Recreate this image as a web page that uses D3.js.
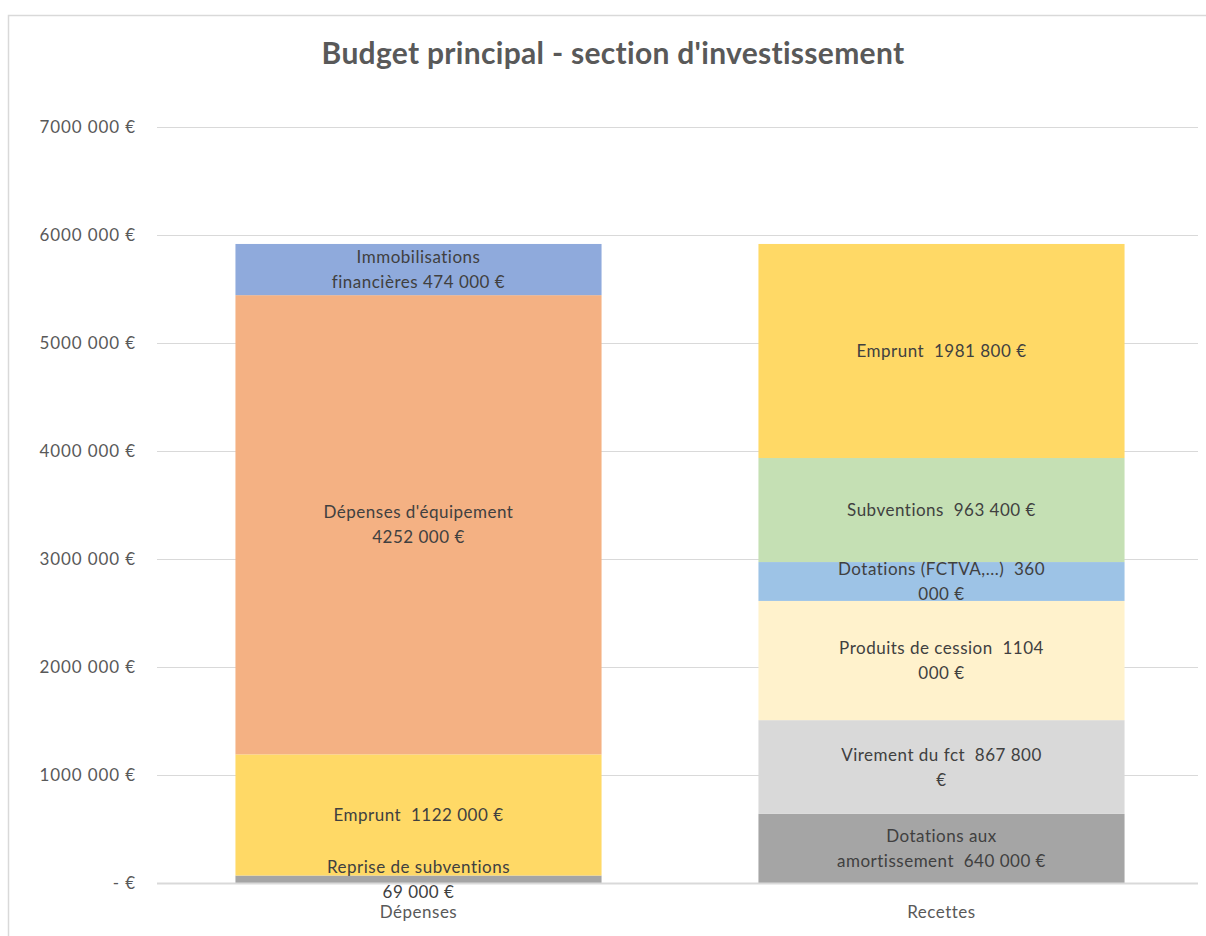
<!DOCTYPE html>
<html>
<head>
<meta charset="utf-8">
<title>Budget principal - section d'investissement</title>
<script src="https://cdn.jsdelivr.net/npm/d3@7"></script>
<style>
  body { margin:0; background:#fff; }
  svg text { font-family: Lato, "Open Sans", sans-serif; white-space: pre; }
</style>
</head>
<body>
<div id="chart"></div>
<script>
// categories and stacks, bottom to top
var categories = ["Dépenses", "Recettes"];

var depNames  = ["Reprise de subventions", "Emprunt  ", "Dépenses d'équipement", "Immobilisations\nfinancières "];
var depValues = [69000, 1122000, 4252000, 474000];
var depColors = ["#a5a5a5", "#ffd966", "#f4b183", "#8faadc"];
var depWrapValue = [true, false, true, false];

var recNames  = ["Dotations aux\namortissement  ", "Virement du fct  ", "Produits de cession  ", "Dotations (FCTVA,...)  ", "Subventions  ", "Emprunt  "];
var recValues = [640000, 867800, 1104000, 360000, 963400, 1981800];
var recColors = ["#a5a5a5", "#d9d9d9", "#fff2cc", "#9dc3e6", "#c5e0b4", "#ffd966"];
// where the value itself wraps (as in the Excel labels)
var recValueSplit = [null, "€", "000", "000", null, null];

var yTicks = [0, 1000000, 2000000, 3000000, 4000000, 5000000, 6000000, 7000000];

function euro(v) {
  if (v === 0) return "- €";
  var k = Math.floor(v / 1000), r = v % 1000;
  return k + " " + String(r).padStart(3, "0") + " €";
}

var W = 1206, H = 936;
var svg = d3.select("#chart").append("svg").attr("width", W).attr("height", H);

// chart frame
svg.append("rect").attr("x", 8.5).attr("y", 15.5).attr("width", W + 10).attr("height", H + 10)
  .attr("fill", "none").attr("stroke", "#d9d9d9").attr("stroke-width", 1.5);

svg.append("text").attr("x", 613).attr("y", 64).attr("text-anchor", "middle")
  .attr("font-size", 30).attr("font-weight", "bold").attr("letter-spacing", 0.3).attr("fill", "#595959")
  .text("Budget principal - section d'investissement");

var y = d3.scaleLinear().domain([0, 7000000]).range([883, 127]);
var x = d3.scaleBand().domain(categories).range([157, 1203]).paddingInner(0.3).paddingOuter(0.15);

// grid
svg.append("g").selectAll("line").data(yTicks).join("line")
  .attr("x1", 157).attr("x2", 1198)
  .attr("y1", d => Math.round(y(d)) + 0.5).attr("y2", d => Math.round(y(d)) + 0.5)
  .attr("stroke", "#d9d9d9").attr("stroke-width", 1);

var yAxis = svg.append("g").attr("transform", "translate(157,0)")
  .call(d3.axisLeft(y).tickValues(yTicks).tickFormat(euro).tickSize(0).tickPadding(21));
yAxis.select(".domain").remove();
yAxis.selectAll("text").attr("font-size", 17).attr("letter-spacing", 0.9).attr("fill", "#595959");

function stack(names, values, colors, wrapValue, splits) {
  var acc = 0;
  return values.map(function (v, i) {
    var s = { value: v, color: colors[i], y0: acc, y1: acc + v };
    acc += v;
    var e = euro(v);
    if (splits && splits[i] === "€") e = e.replace(" €", "\n€");
    else if (splits && splits[i] === "000") e = e.replace(" 000", "\n000");
    var full = names[i] + (wrapValue && wrapValue[i] ? "\n" : "") + e;
    s.lines = full.split("\n");
    return s;
  });
}

var series = [
  { cat: "Dépenses", segs: stack(depNames, depValues, depColors, depWrapValue) },
  { cat: "Recettes", segs: stack(recNames, recValues, recColors, null, recValueSplit) }
];

series.forEach(function (s) {
  svg.append("g").selectAll("rect").data(s.segs).join("rect")
    .attr("x", x(s.cat)).attr("width", x.bandwidth())
    .attr("y", d => y(d.y1)).attr("height", d => y(d.y0) - y(d.y1))
    .attr("fill", d => d.color);
});

// baseline over the bars
svg.append("line").attr("x1", 157).attr("x2", 1198).attr("y1", 883.5).attr("y2", 883.5)
  .attr("stroke", "#d9d9d9").attr("stroke-width", 2);

// category labels
svg.append("g").selectAll("text").data(categories).join("text")
  .attr("x", d => x(d) + x.bandwidth() / 2).attr("y", 918).attr("text-anchor", "middle")
  .attr("font-size", 17).attr("letter-spacing", 0.5).attr("fill", "#595959").text(d => d);

// data labels
var lineH = 25;
series.forEach(function (s) {
  var cx = x(s.cat) + x.bandwidth() / 2;
  s.segs.forEach(function (d) {
    var mid = (y(d.y0) + y(d.y1)) / 2;
    var n = d.lines.length;
    var t = svg.append("text").attr("text-anchor", "middle").attr("font-size", 17)
      .attr("letter-spacing", 0.5).attr("fill", "#404040");
    d.lines.forEach(function (ln, j) {
      t.append("tspan").attr("x", cx).attr("y", mid + (j - (n - 1) / 2) * lineH + 6).text(ln);
    });
  });
});
</script>
</body>
</html>
